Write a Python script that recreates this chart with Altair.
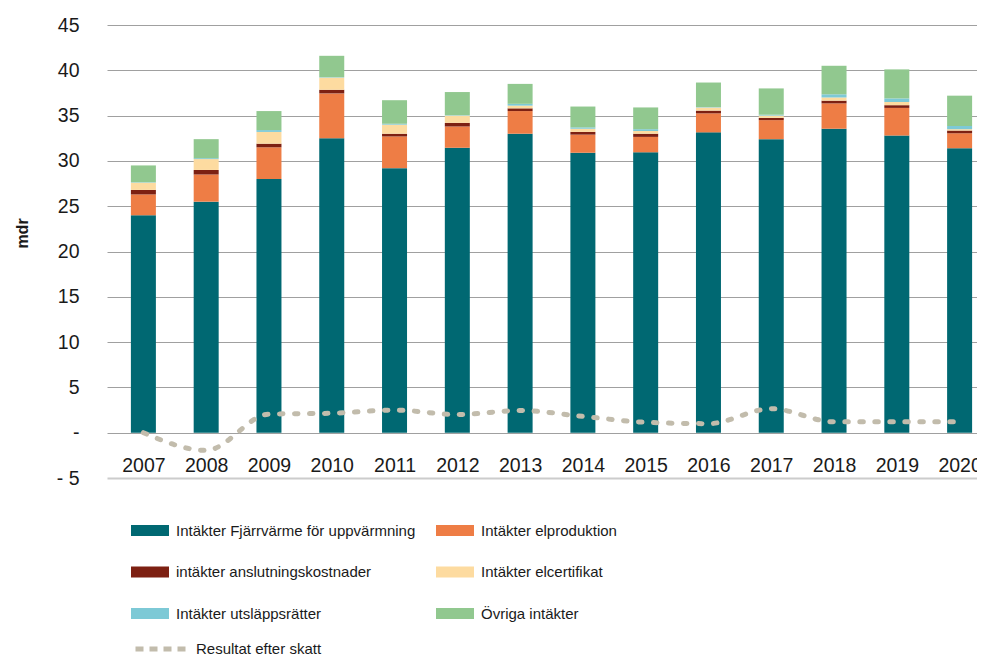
import altair as alt
import pandas as pd

years = list(range(2007, 2021))
categories = [
    "Intäkter Fjärrvärme för uppvärmning",
    "Intäkter elproduktion",
    "intäkter anslutningskostnader",
    "Intäkter elcertifikat",
    "Intäkter utsläppsrätter",
    "Övriga intäkter",
]
colors = ["#006872", "#EE7D45", "#7D2012", "#FDDBA0", "#7DC9D6", "#91C88F"]

fjarrvarme = [24.0, 25.5, 28.0, 32.5, 29.2, 31.45, 33.0, 30.9, 30.95, 33.15, 32.4, 33.55, 32.8, 31.4]
elproduktion = [2.3, 3.0, 3.5, 4.95, 3.5, 2.35, 2.5, 2.0, 1.7, 2.1, 2.1, 2.8, 3.05, 1.65]
anslutning = [0.5, 0.5, 0.4, 0.4, 0.3, 0.4, 0.3, 0.3, 0.35, 0.3, 0.25, 0.3, 0.3, 0.3]
elcertifikat = [0.8, 1.2, 1.3, 1.35, 1.0, 0.8, 0.3, 0.35, 0.3, 0.35, 0.25, 0.35, 0.35, 0.15]
utslapp = [0.05, 0.1, 0.2, 0.05, 0.1, 0.05, 0.2, 0.15, 0.2, 0.05, 0.1, 0.35, 0.4, 0.35]
ovriga = [1.85, 2.1, 2.1, 2.35, 2.6, 2.55, 2.2, 2.3, 2.4, 2.7, 2.9, 3.15, 3.2, 3.35]
resultat = [0.0, -1.95, 2.05, 2.15, 2.5, 2.0, 2.45, 1.8, 1.15, 1.0, 2.65, 1.2, 1.2, 1.2]

series = [fjarrvarme, elproduktion, anslutning, elcertifikat, utslapp, ovriga]
rows = []
for i, yr in enumerate(years):
    for k, (cat, vals) in enumerate(zip(categories, series)):
        rows.append({"year": yr, "kategori": cat, "order": k, "value": vals[i]})
bars_df = pd.DataFrame(rows)
line_df = pd.DataFrame({"year": years, "resultat": resultat, "serie": ["Resultat efter skatt"] * len(years)})

FONT = "Liberation Sans"
TXT = "#1a1a1a"

x_enc = alt.X(
    "year:Q",
    scale=alt.Scale(domain=[2006.5, 2020.5], range=[0, 889], nice=False, zero=False),
    axis=alt.Axis(
        values=years, format="d", title=None, grid=False, domain=False, ticks=False,
        tickSize=0, labelFontSize=19.5, labelColor=TXT, labelPadding=0, offset=-13,
        labelBaseline="middle", labelFlush=False, labelOverlap=False,
    ),
)

y_scale = alt.Scale(domain=[-5, 45], nice=False, zero=False)
y_axis = alt.Axis(
    values=list(range(-5, 50, 5)),
    labelExpr="datum.value == 0 ? '-' : (datum.value < 0 ? '- ' + abs(datum.value) : datum.label)",
    title="mdr", titleFontWeight="bold", titleFontSize=16, titleColor=TXT,
    titleAngle=270, titleX=-80, titleY=208, titleAlign="center", titleBaseline="alphabetic",
    domain=False, ticks=False, tickSize=0, labelPadding=28, labelFontSize=19.5, labelColor=TXT,
    gridColor={"condition": {"test": "datum.value === -5", "value": "#cccccc"}, "value": "#a0a0a0"},
    gridWidth={"condition": {"test": "datum.value === -5", "value": 2}, "value": 1},
)

bars = alt.Chart(bars_df).mark_bar(size=25).encode(
    x=x_enc,
    y=alt.Y("value:Q", stack="zero", scale=y_scale, axis=y_axis),
    color=alt.Color(
        "kategori:N",
        scale=alt.Scale(domain=categories, range=colors),
        legend=alt.Legend(
            orient="none", legendX=24, legendY=486.5, columns=2, direction="horizontal", title=None,
            symbolType="M-1,-0.29H1V0.29H-1Z", symbolSize=1444, symbolStrokeWidth=0,
            labelFontSize=15, labelColor=TXT, labelLimit=400, labelOffset=7,
            columnPadding=20, rowPadding=14.5,
        ),
    ),
    order=alt.Order("order:Q", sort="ascending"),
)

line = alt.Chart(line_df).mark_line(
    interpolate="monotone", strokeWidth=5, strokeCap="round", strokeDash=[3.5, 11.5]
).encode(
    x=x_enc,
    y=alt.Y("resultat:Q", scale=y_scale, axis=y_axis),
    stroke=alt.Stroke(
        "serie:N",
        scale=alt.Scale(range=["#C2BCAC"]),
        legend=alt.Legend(
            orient="none", legendX=26, legendY=594, title=None,
            symbolType="stroke", symbolSize=3025, symbolStrokeWidth=5, symbolDash=[8, 6],
            labelFontSize=15, labelColor=TXT, labelOffset=3,
        ),
    ),
)

chart = alt.layer(bars, line).properties(
    width=870, height=453,
    autosize=alt.AutoSizeParams(type="none"),
    padding={"left": 99, "top": 17, "right": 0, "bottom": 178},
    background="white",
).configure(font=FONT).configure_view(stroke=None)

chart.save("out.html", embed_options={"renderer": "svg", "actions": False})
